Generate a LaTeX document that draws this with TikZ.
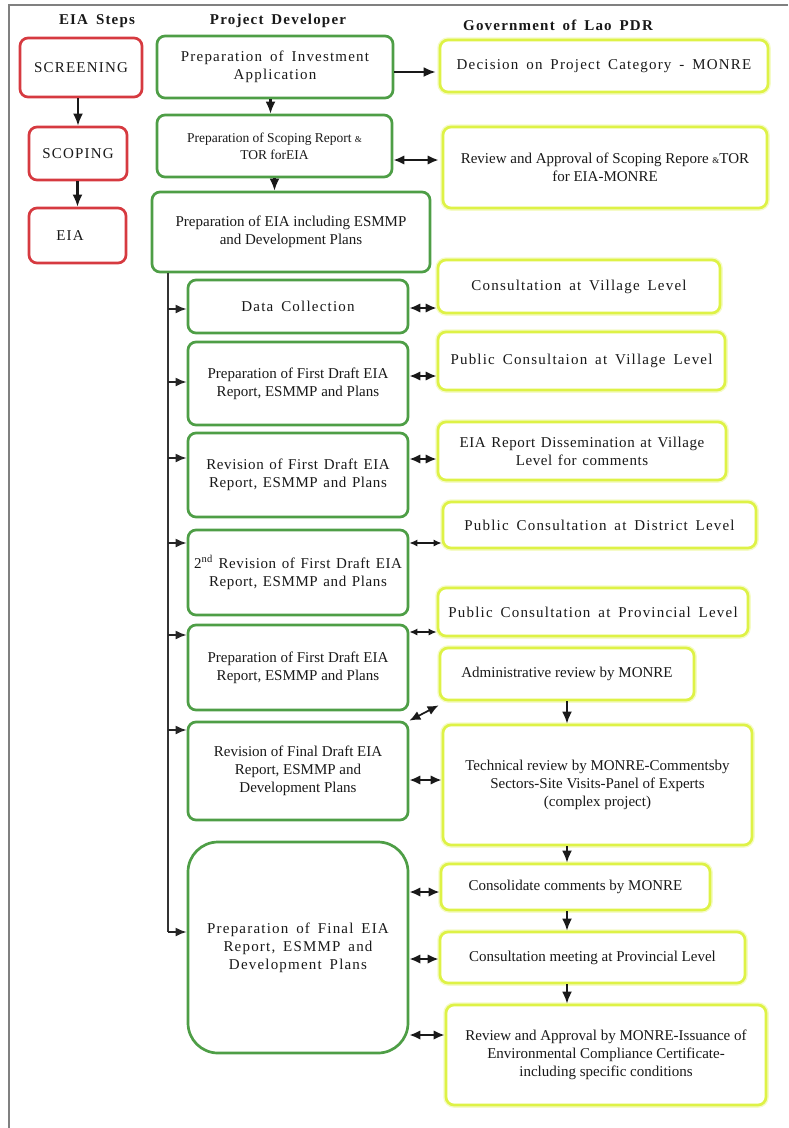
\documentclass[tikz,border=0pt]{standalone}
\usepackage{fontspec}
\setmainfont{Liberation Serif}
\newfontfamily\widefont[LetterSpace=8,WordSpace=1.6]{Liberation Serif}
\newfontfamily\midfont[LetterSpace=4,WordSpace=1.3]{Liberation Serif}
\usetikzlibrary{arrows.meta}

\definecolor{redc}{RGB}{214,58,64}
\definecolor{greenc}{RGB}{78,158,70}
\definecolor{yellowc}{RGB}{222,242,70}
\definecolor{txtc}{RGB}{25,25,25}
\definecolor{framec}{RGB}{128,128,128}

\tikzset{
  box/.style={rectangle, rounded corners=8pt, line width=2.7pt, inner sep=0pt,
              align=center, text=txtc, fill=white},
  rbox/.style={box, draw=redc},
  gbox/.style={box, draw=greenc},
  ybox/.style={box, draw=yellowc, preaction={draw=yellowc!30, line width=5.5pt}},
  wtxt/.style={font=\widefont\fontsize{15}{18}\selectfont},
  mtxt/.style={font=\midfont\fontsize{15}{18}\selectfont},
  ctxt/.style={font=\fontsize{15}{18}\selectfont},
  stxt/.style={font=\fontsize{13.5}{17}\selectfont},
  header/.style={font=\widefont\bfseries\fontsize{15}{18}\selectfont, text=txtc},
  arr/.style={-{Latex[length=12pt,width=10pt]}, line width=2.1pt, draw=black!90},
  darr/.style={{Latex[length=11pt,width=9.5pt]}-{Latex[length=11pt,width=9.5pt]},
               line width=2.1pt, draw=black!90},
  sdarr/.style={{Latex[length=8pt,width=7pt]}-{Latex[length=8pt,width=7pt]},
               line width=1.4pt, draw=black!90},
  trunk/.style={line width=1.5pt, draw=black!80},
  barr/.style={-{Latex[length=11pt,width=9pt]}, line width=1.9pt, draw=black!85},
}

\begin{document}
\begin{tikzpicture}[x=1pt, y=-1pt]
\useasboundingbox (0,0) rectangle (788,1128);

% page frame
\draw[framec, line width=2pt] (9,1128) -- (9,5) -- (788,5);

% column headings
\node[header] (h1) at (97,21) {EIA Steps};
\node[header] (h2) at (278,21) {Project Developer};
\node[header] (h3) at (558,25) {Government of Lao PDR};

% EIA steps
\node[rbox, wtxt, minimum width=122pt, minimum height=59pt] (scr) at (81,67.5) {SCREENING};
\node[rbox, wtxt, minimum width=98pt, minimum height=53pt] (scp) at (78,153.5) {SCOPING};
\node[rbox, wtxt, minimum width=97pt, minimum height=55pt] (eia) at (77.5,235.5) {EIA\hspace*{15pt}};

% project developer
\node[gbox, wtxt, minimum width=236pt, minimum height=62pt] (g1) at (275,67)
  {Preparation of Investment\\Application};
\node[gbox, stxt, minimum width=235pt, minimum height=62pt] (g2) at (274.5,146)
  {Preparation of Scoping Report {\small\&}\\TOR forEIA};
\node[gbox, ctxt, minimum width=278pt, minimum height=80pt] (g3) at (291,232)
  {Preparation of EIA including ESMMP\\and Development Plans};

\node[gbox, wtxt, minimum width=220pt, minimum height=53pt] (d1) at (298,306.5)
  {Data Collection};
\node[gbox, ctxt, minimum width=220pt, minimum height=83pt] (d2) at (298,383.5)
  {Preparation of First Draft EIA\\Report, ESMMP and Plans};
\node[gbox, mtxt, minimum width=220pt, minimum height=84pt] (d3) at (298,475)
  {Revision of First Draft EIA\\Report, ESMMP and Plans};
\node[gbox, mtxt, minimum width=220pt, minimum height=85pt] (d4) at (298,572.5)
  {2\textsuperscript{nd} Revision of First Draft EIA\\Report, ESMMP and Plans};
\node[gbox, ctxt, minimum width=220pt, minimum height=85pt] (d5) at (298,667.5)
  {Preparation of First Draft EIA\\Report, ESMMP and Plans};
\node[gbox, ctxt, minimum width=220pt, minimum height=98pt] (d6) at (298,771)
  {Revision of Final Draft EIA\\Report, ESMMP and\\Development Plans};
\node[gbox, wtxt, rounded corners=30pt, minimum width=220pt, minimum height=211pt] (d7) at (298,947.5)
  {Preparation of Final EIA\\Report, ESMMP and\\Development Plans};

% government of Lao PDR
\node[ybox, wtxt, minimum width=328pt, minimum height=52pt] (y1) at (604,66)
  {Decision on Project Category - MONRE};
\node[ybox, ctxt, minimum width=324pt, minimum height=81pt] (y2) at (605,167.5)
  {Review and Approval of Scoping Repore {\small\&}TOR\\for EIA-MONRE};
\node[ybox, wtxt, minimum width=282pt, minimum height=53pt] (y3) at (579,286.5)
  {Consultation at Village Level};
\node[ybox, wtxt, minimum width=287pt, minimum height=58pt] (y4) at (581.5,361)
  {Public Consultaion at Village Level};
\node[ybox, mtxt, minimum width=288pt, minimum height=58pt] (y5) at (582,451)
  {EIA Report Dissemination at Village\\Level for comments};
\node[ybox, wtxt, minimum width=313pt, minimum height=46pt] (y6) at (599.5,525)
  {Public Consultation at District Level};
\node[ybox, wtxt, minimum width=310pt, minimum height=48pt] (y7) at (593,612)
  {Public Consultation at Provincial Level};
\node[ybox, ctxt, minimum width=254pt, minimum height=52pt] (y8) at (567,674)
  {Administrative review by MONRE};
\node[ybox, ctxt, minimum width=309pt, minimum height=120pt] (y9) at (597.5,785)
  {Technical review by MONRE-Commentsby\\Sectors-Site Visits-Panel of Experts\\(complex project)};
\node[ybox, ctxt, minimum width=269pt, minimum height=46pt] (y10) at (575.5,887)
  {Consolidate comments by MONRE};
\node[ybox, ctxt, minimum width=305pt, minimum height=51pt] (y11) at (592.5,957.5)
  {Consultation meeting at Provincial Level};
\node[ybox, ctxt, minimum width=320pt, minimum height=100pt] (y12) at (606,1055)
  {Review and Approval by MONRE-Issuance of\\Environmental Compliance Certificate-\\including specific conditions};

% EIA steps flow
\draw[arr] (scp.north |- scr.south) -- (scp.north);
\draw[arr] (eia.north |- scp.south) -- (eia.north);

% developer flow
\draw[arr] ([xshift=-4pt]g2.north |- g1.south) -- ([xshift=-4pt]g2.north);
\draw[arr] (g2.south) -- (g2.south |- g3.north);
\draw[arr, shorten >=3pt] ([yshift=-5pt]g1.east) -- ([yshift=-5pt]g1.east -| y1.west);
\draw[darr, shorten >=3pt] ([yshift=-14pt]g2.east) -- ([yshift=-14pt]g2.east -| y2.west);

% trunk feeding the EIA tasks
\coordinate (tk) at (168,932);
\coordinate (b1) at (168,309);
\coordinate (b2) at (168,382);
\coordinate (b3) at (168,458);
\coordinate (b4) at (168,543);
\coordinate (b5) at (168,635);
\coordinate (b6) at (168,730);
\draw[trunk] (g3.south -| tk) -- (tk);
\draw[barr] (tk) -- (tk -| d7.west);
\draw[barr] (b1) -- (b1 -| d1.west);
\draw[barr] (b2) -- (b2 -| d2.west);
\draw[barr] (b3) -- (b3 -| d3.west);
\draw[barr] (b4) -- (b4 -| d4.west);
\draw[barr] (b5) -- (b5 -| d5.west);
\draw[barr] (b6) -- (b6 -| d6.west);

% consultations with government
\draw[darr] ([yshift=-1.5pt]d1.east) -- ([yshift=-1.5pt]d1.east -| y3.west);
\draw[darr] ([yshift=7.5pt]d2.east) -- ([yshift=7.5pt]d2.east -| y4.west);
\draw[darr] ([yshift=16pt]d3.east) -- ([yshift=16pt]d3.east -| y5.west);
\draw[sdarr] ([yshift=29.5pt]d4.east) -- ([yshift=29.5pt]d4.east -| y6.west);
\draw[sdarr] ([yshift=35.5pt]d5.east) -- ([yshift=35.5pt]d5.east -| y7.west);
\draw[darr, line width=1.7pt] (d6.north east) -- ([yshift=-4pt]y8.south west);
\draw[darr] ([yshift=-9pt]d6.east) -- ([yshift=-9pt]d6.east -| y9.west);
\draw[darr] ([yshift=55.5pt]d7.east) -- ([yshift=55.5pt]d7.east -| y10.west);
\draw[darr] ([yshift=-11.5pt]d7.east) -- ([yshift=-11.5pt]d7.east -| y11.west);
\draw[darr] ([yshift=-87.5pt]d7.east) -- ([yshift=-87.5pt]d7.east -| y12.west);

% government review chain
\draw[arr] (y8.south) -- (y8.south |- y9.north);
\draw[arr] (y9.south -| y8.south) -- (y10.north -| y8.south);
\draw[arr] (y10.south -| y8.south) -- (y11.north -| y8.south);
\draw[arr] (y11.south -| y8.south) -- (y12.north -| y8.south);
\end{tikzpicture}
\end{document}
